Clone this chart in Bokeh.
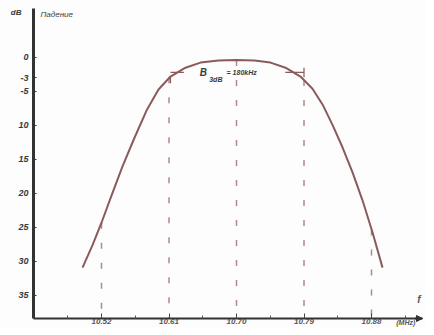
from bokeh.plotting import figure
from bokeh.models import Range1d, FixedTicker, Label, Arrow, NormalHead, LinearAxis
from bokeh.embed import file_html
from bokeh.resources import INLINE

# Response curve (frequency in MHz, attenuation in dB, drawn downward)
freq_mhz = [10.4947, 10.508, 10.52, 10.5333, 10.548, 10.564, 10.58, 10.596, 10.612,
            10.632, 10.652, 10.676, 10.700, 10.724, 10.7453, 10.7653, 10.7853, 10.8013,
            10.8147, 10.828, 10.8413, 10.8547, 10.868, 10.8813, 10.8947]
atten_db = [30.9, 27.6, 24.3, 20.3, 16.0, 11.8, 7.8, 4.7, 2.8,
            1.5, 0.75, 0.45, 0.37, 0.45, 0.75, 1.5, 2.8, 4.6,
            6.9, 9.9, 13.2, 16.9, 21.0, 25.7, 30.9]

# Dashed verticals from the curve to the axis
marker_freq = [10.52, 10.61, 10.70, 10.79, 10.88]
marker_top = [24.3, 2.9, 0.37, 3.3, 25.3]

# Ticks
x_ticks = [10.52, 10.61, 10.70, 10.79, 10.88]
x_tick_labels = ["10.52", "10.61", "10.70", "10.79", "10.88"]
x_minor_ticks = [10.475, 10.565, 10.655, 10.745, 10.835, 10.925]
y_ticks = [0, 3, 5, 10, 15, 20, 25, 30, 35]
y_tick_labels = ["0", "-3", "-5", "10", "15", "20", "25", "30", "35"]

# Bandwidth bracket
band_edges = [10.612, 10.79]
band_level = 2.2
band_text = "= 180kHz"

CURVE = "#8b5a5a"
DASH = "#b08888"
INK = "#3a3a3a"
FONT = "Liberation Sans"

# frame covers the whole figure; axes are pinned at fixed data locations
X0, X1 = 10.38533, 10.95333
Y_TOP, Y_BOTTOM = -8.382, 39.706
AXIS_X = 10.4293      # where the dB axis stands
AXIS_Y = 38.38        # where the frequency axis lies
AXIS_TOP = -7.2
AXIS_RIGHT = 10.948

p = figure(width=426, height=327, output_backend="svg", toolbar_location=None,
           x_range=Range1d(X0, X1), y_range=Range1d(Y_BOTTOM, Y_TOP),
           x_axis_location=None, y_axis_location=None,
           min_border=0, min_border_left=0, min_border_right=0,
           min_border_top=0, min_border_bottom=0)
p.background_fill_color = "#fdfdfd"
p.border_fill_color = "#fdfdfd"
p.outline_line_color = None
p.xgrid.visible = False
p.ygrid.visible = False

xaxis = LinearAxis(fixed_location=AXIS_Y, bounds=(AXIS_X, AXIS_RIGHT))
xaxis.ticker = FixedTicker(ticks=x_ticks, minor_ticks=x_minor_ticks)
xaxis.major_label_overrides = {t: l for t, l in zip(x_ticks, x_tick_labels)}
xaxis.axis_line_width = 2
xaxis.axis_line_color = "#333333"
xaxis.major_tick_in = 5
xaxis.major_tick_out = 0
xaxis.minor_tick_in = 3
xaxis.minor_tick_out = 0
xaxis.major_tick_line_color = "#444444"
xaxis.minor_tick_line_color = "#555555"
xaxis.major_label_standoff = 1
xaxis.major_label_text_font = FONT
xaxis.major_label_text_font_size = "8px"
xaxis.major_label_text_font_style = "bold italic"
xaxis.major_label_text_color = "#555555"
p.add_layout(xaxis, "below")

yaxis = LinearAxis(fixed_location=AXIS_X, bounds=(AXIS_TOP, AXIS_Y))
yaxis.ticker = FixedTicker(ticks=y_ticks)
yaxis.major_label_overrides = {t: l for t, l in zip(y_ticks, y_tick_labels)}
yaxis.axis_line_width = 3
yaxis.axis_line_color = "#333333"
yaxis.major_tick_in = 3
yaxis.major_tick_out = 0
yaxis.minor_tick_line_color = None
yaxis.major_tick_line_color = "#333333"
yaxis.major_label_standoff = 5
yaxis.major_label_text_font = FONT
yaxis.major_label_text_font_size = "9px"
yaxis.major_label_text_font_style = "bold italic"
yaxis.major_label_text_color = INK
p.add_layout(yaxis, "left")

# dashed verticals
p.segment(x0=marker_freq, y0=marker_top, x1=marker_freq, y1=[AXIS_Y] * len(marker_freq),
          line_color=DASH, line_width=1.5, line_dash="6 14")

# curve
p.line(freq_mhz, atten_db, line_color=CURVE, line_width=2)

# bandwidth bracket
lo, hi = band_edges
span = hi - lo
p.segment(x0=[lo, hi - 0.14 * span], y0=[band_level] * 2,
          x1=[lo + 0.1 * span, hi], y1=[band_level] * 2, line_color=CURVE, line_width=1.2)
p.segment(x0=[lo], y0=[marker_top[1]], x1=[lo], y1=[band_level + 1.6],
          line_color=CURVE, line_width=1.2)
p.segment(x0=[hi], y0=[band_level - 0.7], x1=[hi], y1=[band_level + 0.7],
          line_color=CURVE, line_width=1.2)
p.add_layout(Label(x=lo + 0.22 * span, y=band_level, text="B", text_font=FONT,
                   text_font_size="10px", text_font_style="bold italic", text_color=INK,
                   text_baseline="middle"))
p.add_layout(Label(x=lo + 0.29 * span, y=band_level + 1.1, text="3dB", text_font=FONT,
                   text_font_size="7px", text_font_style="bold italic", text_color=INK,
                   text_baseline="middle"))
p.add_layout(Label(x=lo + 0.42 * span, y=band_level, text=band_text, text_font=FONT,
                   text_font_size="7px", text_font_style="bold italic", text_color=INK,
                   text_baseline="middle"))

# axis titles
p.add_layout(Label(x=10.399, y=-6.6, text="dB", text_font=FONT, text_font_size="8px",
                   text_font_style="bold italic", text_color=INK, text_baseline="middle"))
p.add_layout(Label(x=10.4387, y=-6.3, text="Падение", text_font=FONT, text_font_size="8px",
                   text_font_style="italic", text_color=INK, text_baseline="middle"))
p.add_layout(Label(x=10.941, y=35.6, text="f", text_font=FONT, text_font_size="10px",
                   text_font_style="bold italic", text_color="#555555", text_baseline="middle"))
p.add_layout(Label(x=10.913, y=39.0, text="(MHz)", text_font=FONT, text_font_size="7px",
                   text_font_style="bold italic", text_color="#555555", text_baseline="middle"))

# frequency-axis arrow head
p.add_layout(Arrow(end=NormalHead(size=6, fill_color="#333333", line_color="#333333"),
                   x_start=AXIS_RIGHT - 0.01, y_start=AXIS_Y, x_end=AXIS_RIGHT, y_end=AXIS_Y,
                   line_color="#333333", line_width=2))

open("out.html", "w").write(file_html(p, INLINE))
